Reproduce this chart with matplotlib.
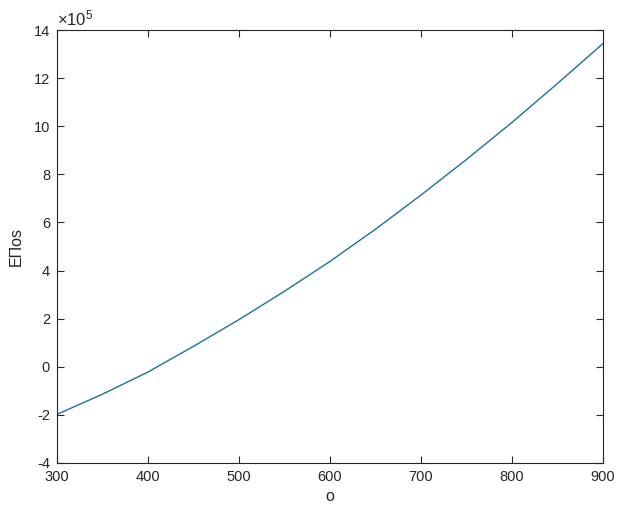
import matplotlib
matplotlib.use("Agg")
import matplotlib.pyplot as plt
from matplotlib.ticker import FuncFormatter

plt.rcParams['font.family'] = ['Liberation Sans', 'DejaVu Sans']
plt.rcParams['mathtext.fontset'] = 'custom'
plt.rcParams['mathtext.rm'] = 'Liberation Sans'
plt.rcParams['mathtext.it'] = 'Liberation Sans:italic'

# Data
o_vals = [300, 350, 400, 450, 500, 550, 600, 650, 700, 750, 800, 850, 900]
epos_vals = [-1.98e5, -1.14e5, -0.22e5, 0.85e5, 1.96e5, 3.14e5, 4.38e5,
             5.72e5, 7.14e5, 8.62e5, 10.16e5, 11.78e5, 13.44e5]
x_ticks = [300, 400, 500, 600, 700, 800, 900]
y_ticks = [-4e5, -2e5, 0, 2e5, 4e5, 6e5, 8e5, 10e5, 12e5, 14e5]
y_scale = 1e5

fig = plt.figure(figsize=(6.24, 5.19), dpi=100)
ax = fig.add_axes([0.0913, 0.108, 0.875, 0.834])
ax.plot(o_vals, epos_vals, color='#1f7096', linewidth=1.0)

ax.set_xlim(300, 900)
ax.set_ylim(-4e5, 14e5)
ax.set_xticks(x_ticks)
ax.set_yticks(y_ticks)
ax.yaxis.set_major_formatter(FuncFormatter(lambda v, p: f"{v / y_scale:g}"))

ax.text(0.0, 1.004, r'$\times10^{5}$', transform=ax.transAxes,
        ha='left', va='bottom', fontsize=12, color='#262626')

for s in ax.spines.values():
    s.set_color('#262626')
    s.set_linewidth(0.8)
ax.tick_params(direction='in', top=True, right=True, length=5, width=0.8,
               labelsize=10.5, colors='#262626', pad=5)

ax.set_xlabel('o', fontsize=11.5, color='#262626', labelpad=4)
ax.set_ylabel('EΠos', fontsize=11.5, color='#262626', labelpad=7)

fig.savefig('out.png', dpi=100)
